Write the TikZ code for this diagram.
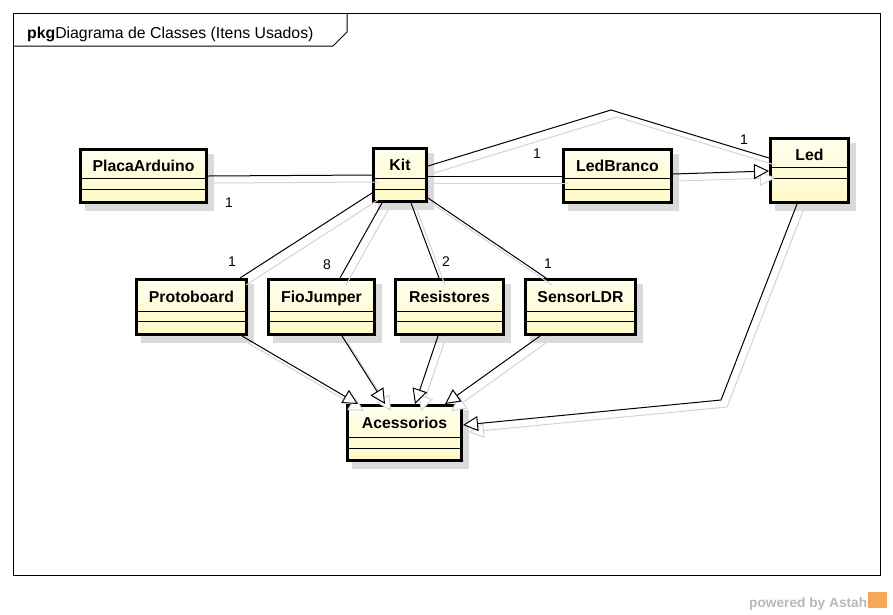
\documentclass[tikz,border=0pt]{standalone}
\usepackage{fontspec}
\setmainfont{Liberation Sans}
\usetikzlibrary{arrows.meta,calc}
\definecolor{boxtop}{RGB}{255,255,238}
\definecolor{boxbot}{RGB}{255,249,198}
\definecolor{shd}{RGB}{218,218,218}
\definecolor{shdline}{RGB}{212,212,212}
\definecolor{wm}{RGB}{185,185,185}
\definecolor{logoc}{RGB}{245,168,85}
\tikzset{
  classbox/.style={draw=black, line width=3pt, top color=boxtop, bottom color=boxbot, inner sep=0pt, rectangle},
  boxshadow/.style={fill=shd},
  comp/.style={line width=1pt, black},
  classname/.style={font=\bfseries\fontsize{15.8}{18}\selectfont, inner sep=0pt, anchor=base},
  mult/.style={font=\fontsize{14}{16}\selectfont, inner sep=0pt, anchor=base},
  assoc/.style={line width=1pt, draw=black},
  gen/.style={line width=1pt, draw=black, -{Triangle[open, fill=white, length=15pt, width=15pt]}},
  sassoc/.style={line width=1pt, draw=shdline},
  sgen/.style={line width=1pt, draw=shdline, -{Triangle[open, fill=white, length=15pt, width=15pt]}},
}
% #1 name, #2 label, #3 x1, #4 y1, #5 x2, #6 y2, #7 first line, #8 second line
\newcommand\umlclass[8]{%
  \fill[boxshadow] (#3+6,#4+6) rectangle (#5+6,#6+7);
  \node[classbox, minimum width={#5-#3-3}, minimum height={#6-#4-3}] (#1) at ({(#3+#5)/2},{(#4+#6)/2}) {};
  \draw[comp] (#3+3,#7) -- (#5-3,#7) (#3+3,#8) -- (#5-3,#8);
  \node[classname] (#1-name) at ({(#3+#5)/2},{(#4+#7)/2+8}) {#2};
}
\newcommand\alledges[2]{%
  \draw[#1] ($(pa.north west)+(129,28)$) -- ($(kit.north west)+(0,28)$);
  \draw[#1] ($(kit.north west)+(56,29)$) -- ($(lb.north west)+(0,28)$);
  \draw[#1] ($(kit.north west)+(56,19)$) -- (611,110) -- ($(led.north west)+(0,21)$);
  \draw[#2] ($(lb.north west)+(111,26)$) -- ($(led.north west)+(0,34)$);
  \draw[#1] ($(kit.north west)+(0,46)$) -- ($(pb.north west)+(105,0)$);
  \draw[#1] ($(kit.north west)+(10,56)$) -- ($(fj.north west)+(73,0)$);
  \draw[#1] ($(kit.north west)+(39,56)$) -- ($(rs.north west)+(45,0)$);
  \draw[#1] ($(kit.north west)+(56,51)$) -- ($(ldr.north west)+(22,0)$);
  \draw[#2] ($(pb.north west)+(107,58)$) -- ($(ac.north west)+(12,0)$);
  \draw[#2] ($(fj.north west)+(75,58)$) -- ($(ac.north west)+(39,0)$);
  \draw[#2] ($(rs.north west)+(44,58)$) -- ($(ac.north west)+(69,0)$);
  \draw[#2] ($(ldr.north west)+(16,58)$) -- ($(ac.north west)+(99,0)$);
  \draw[#2] ($(led.north west)+(28,67)$) -- (721,400) -- ($(ac.north west)+(117,21)$);
}
\begin{document}
\begin{tikzpicture}[x=1pt,y=-1pt]
\useasboundingbox (0,0) rectangle (893,614);
\fill[white] (0,0) rectangle (893,614);
% frame and tab
\draw[line width=1pt] (13,13) rectangle (880,575);
\draw[line width=1pt] (13,46) -- (333,46) -- (347,32) -- (347,13);
\node[anchor=base west, inner sep=0pt, font=\fontsize{15.8}{18}\selectfont] (title) at (27,38) {\textbf{pkg}Diagrama de Classes (Itens Usados)};
% classes
\umlclass{pa}{PlacaArduino}{79}{148}{208}{204}{178}{189}
\umlclass{kit}{Kit}{372}{147}{428}{203}{178}{189}
\umlclass{lb}{LedBranco}{562}{148}{673}{204}{178}{189}
\umlclass{led}{Led}{769}{137}{850}{204}{167}{178}
\umlclass{pb}{Protoboard}{135}{278}{248}{336}{311}{321}
\umlclass{fj}{FioJumper}{267}{278}{376}{336}{311}{321}
\umlclass{rs}{Resistores}{394}{278}{505}{336}{311}{321}
\umlclass{ldr}{SensorLDR}{524}{278}{637}{336}{311}{321}
\umlclass{ac}{Acessorios}{346}{404}{463}{462}{437}{448}
% edge shadows
\begin{scope}[transform canvas={xshift=6pt,yshift=-7pt}]
  \alledges{sassoc}{sgen}
\end{scope}
% edges
\alledges{assoc}{gen}
% multiplicities
\node[mult] (m1) at (229,207) {1};
\node[mult] (m2) at (537,158) {1};
\node[mult] (m3) at (744,144) {1};
\node[mult] (m4) at (232,266) {1};
\node[mult] (m5) at (327,269) {8};
\node[mult] (m6) at (446,266) {2};
\node[mult] (m7) at (548,268) {1};
% watermark
\node[anchor=base west, inner sep=0pt, text=wm, font=\bfseries\fontsize{13.7}{16}\selectfont] (wmark) at (749,607) {powered by Astah};
\fill[logoc] (868,592) rectangle (887,608);
\end{tikzpicture}
\end{document}
